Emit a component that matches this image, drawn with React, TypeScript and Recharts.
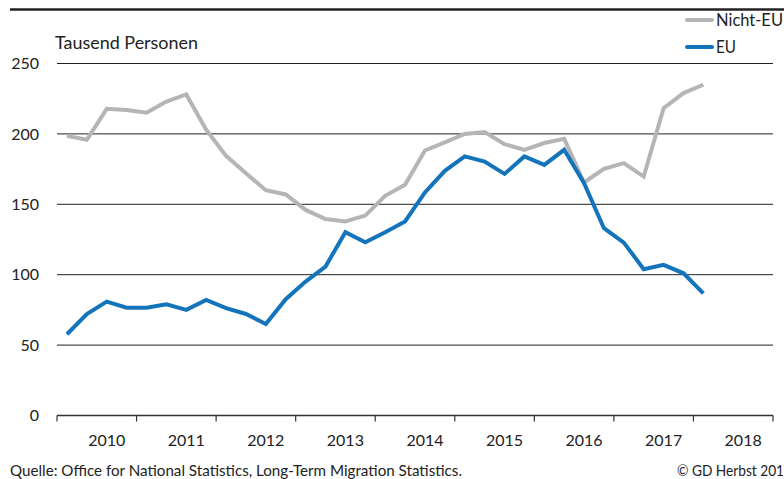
import React from 'react';
import { LineChart, Line, XAxis, YAxis, CartesianGrid } from 'recharts';

const nichtEU = [198.6, 195.8, 217.8, 217, 215, 223, 228, 203, 184.4, 172, 160, 157, 146, 139.5, 137.8, 142, 156, 163.8, 188.2, 194, 200, 201.3, 192.7, 188.7, 193.5, 196.5, 165.5, 175.2, 179.2, 169.7, 218.3, 229, 234.9];
const eu = [57.7, 72.1, 80.9, 76.6, 76.6, 79, 75, 82.1, 76.2, 72.1, 65, 82.6, 95.1, 105.8, 130.2, 123.1, 130.2, 137.8, 158.4, 173.8, 184, 180.4, 171.6, 184, 178, 188.7, 165, 133, 122.8, 103.9, 107, 101, 86.8];
const yearLabels = ['2010', '2011', '2012', '2013', '2014', '2015', '2016', '2017', '2018'];
const yTicks = [0, 50, 100, 150, 200, 250];
const seriesNames = ['Nicht-EU', 'EU'];
const colors = ['#b4b5b4', '#1474bb'];

const W = 784;
const H = 479;
const PLOT_LEFT = 57;
const PLOT_RIGHT = 773;
const PLOT_TOP = 63.5;
const PLOT_BOTTOM = 415.5;
const Q_TOTAL = yearLabels.length * 4;
const Q_PX = (PLOT_RIGHT - PLOT_LEFT) / Q_TOTAL;
const FONT = 'Lato, "Noto Sans", sans-serif';

const data = eu.map((v, i) => ({ q: i + 0.5, eu: v, nichtEU: nichtEU[i] }));
const xTicks = Array.from({ length: yearLabels.length + 1 }, (_, i) => i * 4);

const XTick = (props: any) => {
  const { x, y, payload } = props;
  const idx = payload.value / 4;
  if (idx >= yearLabels.length) return null;
  return (
    <text x={x + 2.5 * Q_PX} y={y} dy="0.71em" textAnchor="middle" fontFamily={FONT} fontSize={16} fill="#222">
      {yearLabels[idx]}
    </text>
  );
};

export default function App() {
  const yAxisW = 40;
  const xAxisH = 30;
  const legendLens = [67, 20];
  return (
    <div style={{ position: 'absolute', left: 0, top: 0, width: W, height: H, background: '#fff', overflow: 'hidden' }}>
      <LineChart
        width={W}
        height={H}
        data={data}
        margin={{ left: PLOT_LEFT - yAxisW, right: W - PLOT_RIGHT, top: PLOT_TOP, bottom: H - PLOT_BOTTOM - xAxisH }}
      >
        <CartesianGrid vertical={false} stroke="#222" strokeWidth={1} />
        <XAxis
          dataKey="q"
          type="number"
          domain={[0, Q_TOTAL]}
          ticks={xTicks}
          interval={0}
          height={xAxisH}
          tickSize={6}
          tickMargin={13}
          axisLine={{ stroke: '#333', strokeWidth: 1.5 }}
          tickLine={{ stroke: '#333', strokeWidth: 1.2 }}
          tick={<XTick />}
        />
        <YAxis
          type="number"
          domain={[0, 250]}
          ticks={yTicks}
          width={yAxisW}
          axisLine={false}
          tickLine={false}
          tickSize={0}
          tickMargin={18}
          tick={{ fontFamily: FONT, fontSize: 16, fill: '#222' }}
        />
        <Line dataKey="nichtEU" stroke={colors[0]} strokeWidth={4} dot={false} isAnimationActive={false} strokeLinejoin="miter" />
        <Line dataKey="eu" stroke={colors[1]} strokeWidth={4} dot={false} isAnimationActive={false} strokeLinejoin="miter" />
      </LineChart>
      <svg width={W} height={H} style={{ position: 'absolute', left: 0, top: 0, pointerEvents: 'none' }}>
        <line x1={10} x2={W} y1={9.5} y2={9.5} stroke="#222" strokeWidth={2.6} />
        <text x={55} y={49} fontFamily={FONT} fontSize={17} fill="#222" textLength={143} lengthAdjust="spacingAndGlyphs">Tausend Personen</text>
        {seriesNames.map((n, i) => (
          <g key={n}>
            <line x1={687} x2={712} y1={20 + i * 27} y2={20 + i * 27} stroke={colors[i]} strokeWidth={4} strokeLinecap="round" />
            <text x={716} y={20 + i * 27} dy="0.35em" fontFamily={FONT} fontSize={17} fill="#222" textLength={legendLens[i]} lengthAdjust="spacingAndGlyphs">{n}</text>
          </g>
        ))}
        <text x={10} y={476} fontFamily={FONT} fontSize={15} fill="#222" textLength={452} lengthAdjust="spacingAndGlyphs">
          Quelle: Office for National Statistics, Long-Term Migration Statistics.
        </text>
        <text x={677} y={476} fontFamily={FONT} fontSize={15} fill="#222" textLength={115} lengthAdjust="spacingAndGlyphs">© GD Herbst 2018</text>
      </svg>
    </div>
  );
}
